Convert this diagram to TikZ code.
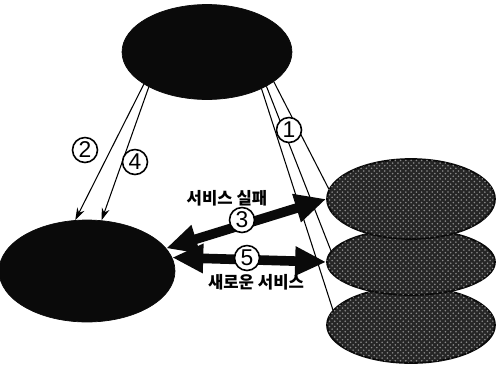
\documentclass[tikz,border=0pt]{standalone}
\usepackage{fontspec}
\setmainfont{Liberation Sans}
\newfontfamily\krfont{Noto Sans CJK KR}
\usetikzlibrary{arrows.meta,shapes.geometric,patterns}
\definecolor{blackmain}{HTML}{0A0A0A}
\definecolor{graystack}{HTML}{262626}
\definecolor{speck}{HTML}{8A8A8A}
\tikzset{
  blob/.style={ellipse,fill=blackmain,draw=blackmain,inner sep=0pt},
  stack/.style={ellipse,fill=graystack,draw=blackmain,line width=1pt,
    inner sep=0pt,minimum width=3.36cm,
    postaction={pattern=crosshatch dots,pattern color=speck}},
  numlabel/.style={circle,draw,fill=white,line width=0.9pt,inner sep=0pt,
    minimum size=0.5cm,font=\fontsize{13}{13}\selectfont},
  krlabel/.style={font=\krfont\bfseries\fontsize{9.5}{9.5}\selectfont},
  thinarrow/.style={-{Stealth[length=7pt,width=4.5pt]},line width=0.6pt},
  link/.style={line width=0.6pt},
  msgarrow/.style={{Triangle[length=0.62cm,width=0.55cm]}-{Triangle[length=0.62cm,width=0.55cm]},
    line width=5.5pt,blackmain}
}

\begin{document}
\begin{tikzpicture}[x=0.02cm,y=-0.02cm]
  \useasboundingbox (0,0) rectangle (497,366);
  % manager, client and the stacked servers
  \node[blob,minimum width=3.4cm,minimum height=1.9cm] (mgr) at (207,52) {};
  \node[blob,minimum width=3.52cm,minimum height=2.04cm] (client) at (87,271) {};
  \node[stack,minimum height=1.52cm] (srvc) at (411,325) {};
  \node[stack,minimum height=1.32cm] (srvb) at (411,262) {};
  \node[stack,minimum height=1.6cm] (srva) at (411,199) {};
  % thin links
  \draw[thinarrow] (mgr.207) -- (client.103);
  \draw[thinarrow] (mgr.211) -- (client.74);
  \draw[link] (mgr.326) -- (srvc.169);
  \draw[link] (mgr.330) -- (srvb.172);
  \draw[link] (mgr.336) -- (srva.173);
  % thick messages
  \draw[msgarrow] (client.16) -- (srva.180);
  \draw[msgarrow] (client.9) -- (srvb.180);
  % labels
  \node[numlabel] (n1) at (289,130) {1};
  \node[numlabel] (n2) at (85,150) {2};
  \node[numlabel] (n3) at (242,220) {3};
  \node[numlabel] (n4) at (135,162) {4};
  \node[numlabel] (n5) at (247,258) {5};
  \node[krlabel] (fail) at (227,198) {서비스 실패};
  \node[krlabel] (newsrv) at (256,282) {새로운 서비스};
\end{tikzpicture}
\end{document}
